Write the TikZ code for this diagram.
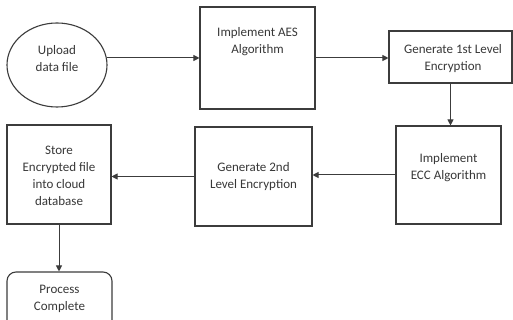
\documentclass[tikz,border=0pt]{standalone}
\usepackage{fontspec}
\setmainfont{Carlito}
\usetikzlibrary{arrows.meta,shapes.geometric}
\definecolor{linec}{HTML}{3C3C3C}
\definecolor{textc}{HTML}{383838}
\begin{document}
\begin{tikzpicture}[x=1pt,y=-1pt,
  shp/.style={draw=linec,line width=1.1pt,inner sep=0pt,fill=white},
  boxn/.style={shp,rectangle},
  lbl/.style={text=textc,align=center,font=\fontsize{13}{17}\selectfont,inner sep=0pt},
  arr/.style={draw=linec,line width=1pt,-{Triangle[length=6pt,width=6pt]}}]
\useasboundingbox (0,0) rectangle (513,320);
\clip (0,0) rectangle (513,320);
\fill[white] (0,0) rectangle (513,320);
\node[shp,ellipse,minimum width=100pt,minimum height=84pt] (up) at (57,65) {};
\node[boxn,minimum width=115pt,minimum height=102pt] (aes) at (257.5,58) {};
\node[boxn,minimum width=123pt,minimum height=52pt] (g1) at (450.5,57) {};
\node[boxn,minimum width=105pt,minimum height=98pt] (ecc) at (448.5,175) {};
\node[boxn,minimum width=117pt,minimum height=99pt] (g2) at (253.5,176.5) {};
\node[boxn,minimum width=104pt,minimum height=99pt] (st) at (59,174.5) {};
\node[shp,rectangle,rounded corners=9pt,minimum width=105pt,minimum height=76pt] (pc) at (59.5,310) {};
\node[lbl] (tup) at (57,59) {Upload\\data file};
\node[lbl] (taes) at (257.5,41.5) {Implement AES\\Algorithm};
\node[lbl] (tg1) at (453,58.5) {Generate 1st Level\\Encryption};
\node[lbl] (tecc) at (448.5,167.5) {Implement\\ECC Algorithm};
\node[lbl] (tg2) at (253.5,177) {Generate 2nd\\Level Encryption};
\node[lbl] (tst) at (59,175.5) {Store\\Encrypted file\\into cloud\\database};
\node[lbl] (tpc) at (59.5,298.5) {Process\\Complete};
\draw[arr] (up.8) -- (up.8 -| aes.west);
\draw[arr] (aes.east) -- (aes.east -| g1.west);
\draw[arr] (g1.south) -- (g1.south |- ecc.north);
\draw[arr] (ecc.west) -- (ecc.west -| g2.east);
\draw[arr] (g2.west) -- (g2.west -| st.east);
\draw[arr] (st.south) -- (st.south |- pc.north);
\end{tikzpicture}
\end{document}
